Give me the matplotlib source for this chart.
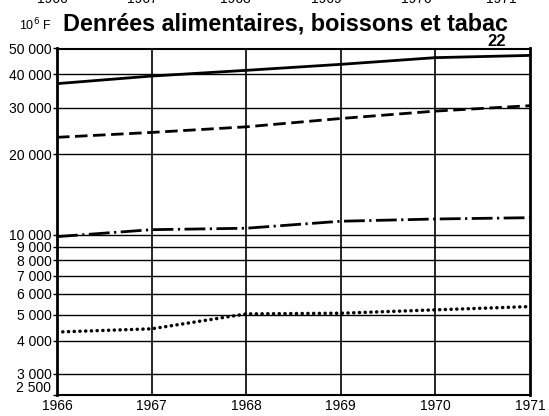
import matplotlib
matplotlib.use("Agg")
import matplotlib.pyplot as plt
from matplotlib.ticker import FixedLocator, NullLocator

plt.rcParams['font.family'] = ['Liberation Sans', 'DejaVu Sans']

years = [1966, 1967, 1968, 1969, 1970, 1971]
serie_total = [36900, 39400, 41400, 43600, 46200, 47100]
serie_tirets = [23200, 24200, 25400, 27300, 29100, 30500]
serie_mixte = [9830, 10440, 10570, 11230, 11450, 11580]
serie_points = [4310, 4430, 5040, 5070, 5220, 5370]

ytick_values = [2500, 3000, 4000, 5000, 6000, 7000, 8000, 9000, 10000, 20000, 30000, 40000, 50000]
ytick_labels = ["2 500", "3 000", "4 000", "5 000", "6 000", "7 000", "8 000", "9 000",
                "10 000", "20 000", "30 000", "40 000", "50 000"]
xtick_labels = ["1966", "1967", "1968", "1969", "1970", "1971"]
title = "Denrées alimentaires, boissons et tabac"
unit = "10$^6$ F"
page = "22"

fig = plt.figure(figsize=(5.49, 4.16), dpi=100)
ax = fig.add_axes([57/549, 1-395/416, (530-57)/549, (395-48.5)/416])
ax.set_yscale('log')
ax.set_xlim(1966, 1971)
ax.set_ylim(2500, 50000)

# grid
for v in ytick_values[1:-1]:
    ax.axhline(v, color='black', lw=1.0, zorder=1)
for yv in years[1:-1]:
    ax.axvline(yv, color='black', lw=1.2, zorder=1)

ax.plot(years, serie_total, color='black', lw=2.0, solid_capstyle='butt', zorder=3)
ax.plot(years, serie_tirets, color='black', lw=2.0, linestyle=(0, (4.5, 2)), zorder=3)
ax.plot(years, serie_mixte, color='black', lw=2.0, linestyle=(0, (7.5, 1.6, 0.8, 1.6)), zorder=3)
ax.plot(years, serie_points, color='black', lw=2.5, linestyle=(0, (0.05, 1.6)),
        dash_capstyle='round', zorder=3)

ax.yaxis.set_major_locator(FixedLocator(ytick_values))
ax.yaxis.set_minor_locator(NullLocator())
ax.set_yticklabels(ytick_labels)
ax.set_xticks(years)
ax.set_xticklabels(xtick_labels)
ax.tick_params(axis='y', direction='out', length=3, width=1, pad=1, labelsize=10)
ax.tick_params(axis='x', length=0, pad=3, labelsize=10)
ax.xaxis.set_minor_locator(NullLocator())
# lowest label sits on the bottom edge, above the first year
ax.get_yticklabels()[0].set_verticalalignment('bottom')

for s in ['left', 'right']:
    ax.spines[s].set_linewidth(2.0)
for s in ['top', 'bottom']:
    ax.spines[s].set_linewidth(1.5)

fig.text(63/549, 1-30/416, title, fontsize=16.8, fontweight='bold', ha='left', va='baseline')
fig.text(19/549, 1-30/416, unit, fontsize=9, ha='left', va='baseline')
fig.text(506/549, 1-46.5/416, page, fontsize=12, fontweight='bold', ha='right', va='baseline')

# cut-off labels of the previous chart at the top edge of the scan
for xc, lab in zip([52, 142, 235, 326, 416, 501], xtick_labels):
    fig.text(xc/549, 1-3/416, lab, fontsize=10, ha='center', va='baseline')

fig.savefig("out.png", dpi=100)
